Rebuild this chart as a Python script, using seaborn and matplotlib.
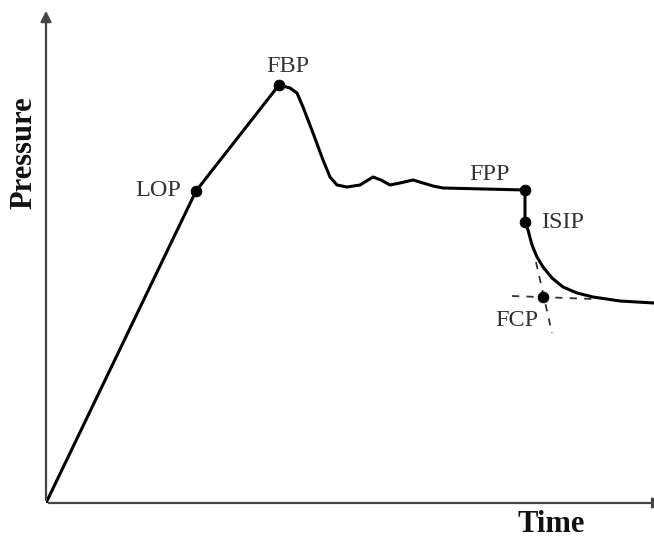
import numpy as np
import pandas as pd
import matplotlib
matplotlib.use("Agg")
import matplotlib.pyplot as plt
import seaborn as sns

# pressure curve (arbitrary units)
time = [0, 150, 233, 244, 251, 257, 267, 277, 284, 291, 301, 314, 327,
        335, 344, 354, 367, 377, 387, 397, 479, 479, 482, 486, 491, 497,
        506, 517, 531, 547, 574, 608]
pressure = [0, 312, 418, 415, 410, 396, 370, 343, 326, 318, 316, 318, 326,
            323, 318, 320, 323, 320, 317, 315, 313, 281, 273, 258, 246, 236,
            225, 216, 210, 206, 202, 200]

# key points
point_names = ["LOP", "FBP", "FPP", "ISIP", "FCP"]
point_time = [150, 233, 479, 479, 497]
point_pressure = [312, 418, 313, 281, 206]
label_time = [112, 242, 444, 517, 471]
label_pressure = [313, 436, 329, 281, 183]

# tangent lines used to pick FCP
tan_h_time = [466, 547]
tan_h_pressure = [207, 204]
tan_v_time = [490, 506]
tan_v_pressure = [241, 170]

sns.set_style("white")
plt.rcParams["font.family"] = ["Liberation Serif", "DejaVu Serif"]

W, H = 654, 541
fig = plt.figure(figsize=(W / 100, H / 100), dpi=100)
ax = fig.add_axes([46 / W, 38 / H, 608 / W, 495 / H])

df = pd.DataFrame({"time": time, "pressure": pressure})
sns.lineplot(data=df, x="time", y="pressure", sort=False, estimator=None,
             color="black", linewidth=2.2, ax=ax,
             solid_joinstyle="round", solid_capstyle="round")

ax.plot(tan_h_time, tan_h_pressure, color="#333333", linestyle=(0, (4, 4)), linewidth=1.3)
ax.plot(tan_v_time, tan_v_pressure, color="#333333", linestyle=(0, (4, 4)), linewidth=1.3)

pts = pd.DataFrame({"time": point_time, "pressure": point_pressure})
sns.scatterplot(data=pts, x="time", y="pressure", color="black", s=60,
                edgecolor="black", zorder=5, ax=ax)

for name, tx, ty in zip(point_names, label_time, label_pressure):
    ax.text(tx, ty, name, fontsize=17.5, color="#333333", ha="center", va="center")

ax.set_xlim(0, 608)
ax.set_ylim(0, 495)
ax.set_xlabel("")
ax.set_ylabel("")
ax.set_xticks([])
ax.set_yticks([])
for sp in ax.spines.values():
    sp.set_visible(False)

arrow = dict(arrowstyle="-|>", color="#444444", lw=1.6, mutation_scale=16)
ax.annotate("", xy=(0, 1.0), xytext=(0, 0), xycoords="axes fraction",
            arrowprops=arrow, annotation_clip=False)
ax.annotate("", xy=(1.02, 0), xytext=(0, 0), xycoords="axes fraction",
            arrowprops=arrow, annotation_clip=False)

fig.text(24 / W, 1 - 153 / H, "Pressure", rotation=90, fontsize=22,
         fontweight="bold", color="#111111", ha="center", va="center")
fig.text(551 / W, 1 - 525 / H, "Time", fontsize=22, fontweight="bold",
         color="#111111", ha="center", va="center")

fig.savefig("out.png", dpi=100)
